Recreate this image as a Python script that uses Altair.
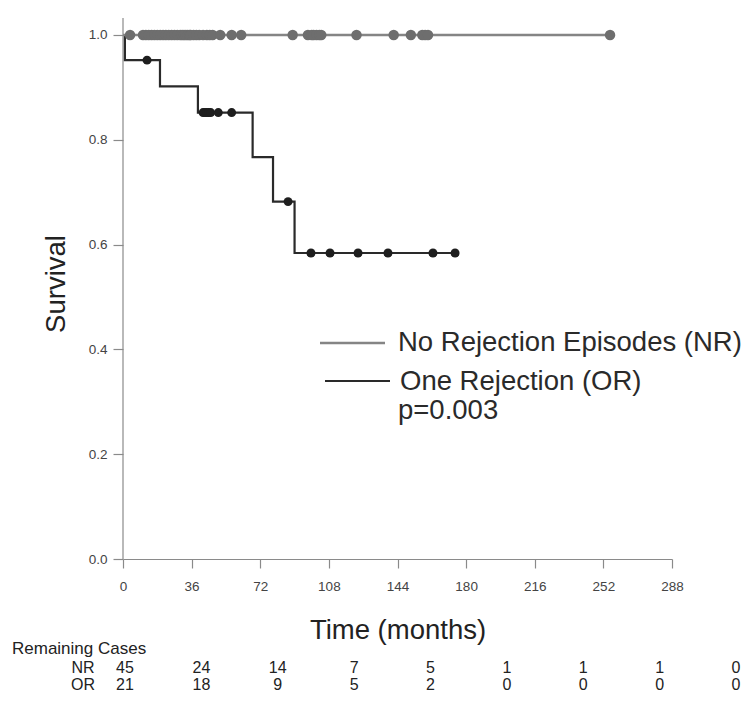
import altair as alt
import pandas as pd

FONT = "Liberation Sans"

# ---------------- data ----------------
# NR group: no events, every patient censored at survival 1.0
nr_line_times = [0, 255.5]
nr_line_surv = [1.0, 1.0]
nr_censor_times = [3.7, 10.5, 12, 13.5, 15, 16.5, 18, 19.5, 21, 22.5, 24, 25.5, 27,
                   28.5, 30, 31, 32, 33, 34, 35, 35.5,
                   37, 38.5, 40, 42, 44, 45.5, 47, 51, 57, 62,
                   89, 97, 99, 100, 101.5, 103, 104,
                   122.5, 142,
                   151, 157, 158.5, 160,
                   255.5]

# OR group: Kaplan-Meier steps
or_step_times = [0, 1, 19.4, 39.3, 68, 78.7, 90, 174.2]
or_step_surv = [1.0, 0.952, 0.902, 0.852, 0.767, 0.682, 0.584, 0.584]
or_censor_times = [12.6, 42, 43, 44, 45, 46, 50, 57, 86.6, 98.6, 108.6, 123.3, 139, 162.6, 174.2]
or_censor_surv = [0.952, 0.852, 0.852, 0.852, 0.852, 0.852, 0.852, 0.852, 0.682,
                  0.584, 0.584, 0.584, 0.584, 0.584, 0.584]

x_ticks = [0, 36, 72, 108, 144, 180, 216, 252, 288]
y_ticks = [0.0, 0.2, 0.4, 0.6, 0.8, 1.0]

legend_labels = ["No Rejection Episodes (NR)", "One Rejection (OR)"]
p_value_text = "p=0.003"

table_title = "Remaining Cases"
row_labels = ["NR", "OR"]
nr_at_risk = [45, 24, 14, 7, 5, 1, 1, 1, 0]
or_at_risk = [21, 18, 9, 5, 2, 0, 0, 0, 0]

NR_LINE = "#858585"
NR_DOT = "#6e6e6e"
OR_LINE = "#2a2a2a"
OR_DOT = "#1e1e1e"
AXIS = "#8a8a8a"

# ---------------- frames ----------------
nr_line_df = pd.DataFrame({"t": nr_line_times, "s": nr_line_surv})
nr_cens_df = pd.DataFrame({"t": nr_censor_times, "s": [1.0] * len(nr_censor_times)})
or_line_df = pd.DataFrame({"t": or_step_times, "s": or_step_surv})
or_cens_df = pd.DataFrame({"t": or_censor_times, "s": or_censor_surv})

X = alt.X("t:Q",
          scale=alt.Scale(domain=[0, 288], nice=False, zero=False),
          axis=alt.Axis(values=x_ticks, title="Time (months)", grid=False,
                        tickSize=9, labelPadding=11, labelFontSize=13.5,
                        labelFlush=False,
                        labelColor="#444", labelFont=FONT,
                        titleFont=FONT, titleFontSize=27.5, titleFontWeight="normal",
                        titleColor="#222", titlePadding=24,
                        domainColor=AXIS, tickColor=AXIS,
                        domainWidth=1.2, tickWidth=1.2))
Y = alt.Y("s:Q",
          scale=alt.Scale(domain=[0, 1.0515], nice=False, zero=False),
          axis=alt.Axis(values=y_ticks, format=".1f", title="Survival", grid=False,
                        domain=False,
                        tickSize=10, labelPadding=6, labelFontSize=13.5,
                        labelFlush=False,
                        labelColor="#444", labelFont=FONT,
                        titleFont=FONT, titleFontSize=27.5, titleFontWeight="normal",
                        titleColor="#222", titlePadding=18,
                        tickColor=AXIS, tickWidth=1.2))

one = pd.DataFrame({"a": [0]})

# y axis line (starts a little above 1.0, as in the original)
y_axis_line = alt.Chart(one).mark_rule(color=AXIS, strokeWidth=1.2).encode(
    x=alt.value(0), y=alt.value(10), y2=alt.value(551))

or_line = alt.Chart(or_line_df).mark_line(
    interpolate="step-after", color=OR_LINE, strokeWidth=2.2).encode(x=X, y=Y)
nr_line = alt.Chart(nr_line_df).mark_line(
    color=NR_LINE, strokeWidth=2.6).encode(x="t:Q", y="s:Q")
nr_pts = alt.Chart(nr_cens_df).mark_circle(
    color=NR_DOT, size=110, opacity=1).encode(x="t:Q", y="s:Q")
or_pts = alt.Chart(or_cens_df).mark_circle(
    color=OR_DOT, size=80, opacity=1).encode(x="t:Q", y="s:Q")

leg_rule_nr = alt.Chart(one).mark_rule(color=NR_LINE, strokeWidth=2.6).encode(
    x=alt.value(197), x2=alt.value(262), y=alt.value(335))
leg_rule_or = alt.Chart(one).mark_rule(color=OR_LINE, strokeWidth=2.2).encode(
    x=alt.value(202), x2=alt.value(267), y=alt.value(373))

def label(txt, x, y, size=27.5, color="#2a2a2a", align="left"):
    return alt.Chart(one).mark_text(
        align=align, baseline="middle", font=FONT, fontSize=size, color=color
    ).encode(x=alt.value(x), y=alt.value(y), text=alt.value(txt))

leg_text_nr = label(legend_labels[0], 275, 335)
leg_text_or = label(legend_labels[1], 277, 374)
p_text = label(p_value_text, 275, 403)

TS = 16
tbl_title = label(table_title, -111, 641, size=17, color="#222")
tbl_nr_lab = label(row_labels[0], -40, 660, size=TS, color="#222", align="center")
tbl_or_lab = label(row_labels[1], -40, 677, size=TS, color="#222", align="center")

main = alt.layer(y_axis_line, or_line, nr_line, nr_pts, or_pts,
                 leg_rule_nr, leg_rule_or, leg_text_nr, leg_text_or, p_text,
                 tbl_title, tbl_nr_lab, tbl_or_lab)

cols = list(range(len(nr_at_risk)))
nr_tbl_df = pd.DataFrame({"col": cols, "n": nr_at_risk})
or_tbl_df = pd.DataFrame({"col": cols, "n": or_at_risk})
TX = alt.X("col:Q", scale=alt.Scale(domain=[0, 8], range=[2, 613]), axis=None)

nr_row = alt.Chart(nr_tbl_df).mark_text(
    align="center", baseline="middle", font=FONT, fontSize=TS, color="#222"
).encode(x=TX, y=alt.value(660), text="n:Q")
or_row = alt.Chart(or_tbl_df).mark_text(
    align="center", baseline="middle", font=FONT, fontSize=TS, color="#222"
).encode(x="col:Q", y=alt.value(677), text="n:Q")
table = alt.layer(nr_row, or_row)

chart = alt.layer(main, table).resolve_scale(x="independent").properties(
    width=549, height=551,
    autosize=alt.AutoSizeParams(type="none"),
    padding={"left": 115, "top": 0, "right": 70, "bottom": 135},
).configure_view(strokeWidth=0)

chart.save("out.html", embed_options={"renderer": "svg", "actions": False})
